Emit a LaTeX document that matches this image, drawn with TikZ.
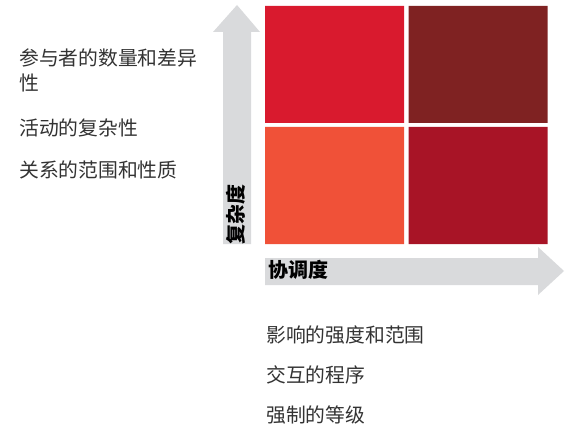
\documentclass[tikz,border=0pt]{standalone}
\usepackage{fontspec}
\newfontfamily\cjk{Noto Sans CJK SC}
\usetikzlibrary{shapes.misc}
\definecolor{qa}{HTML}{D91A2E}
\definecolor{qb}{HTML}{7F2222}
\definecolor{qc}{HTML}{F05138}
\definecolor{qd}{HTML}{A81426}
\definecolor{axisgray}{HTML}{D9DADC}
\begin{document}
\begin{tikzpicture}[x=1pt,y=-1pt,
  quad/.style={chamfered rectangle, chamfered rectangle xsep=5pt, chamfered rectangle ysep=5pt, minimum width=139pt, minimum height=117pt, inner sep=0pt, draw=none},
  txt/.style={anchor=west, inner sep=0pt, font=\cjk\fontsize{19.8}{25}\selectfont, align=left, text=black!80},
  axlabel/.style={inner sep=0pt, font=\cjk\bfseries\fontsize{20}{22}\selectfont, text=black}]
\useasboundingbox (0,0) rectangle (566,428);
% axes arrows
\fill[axisgray] (223,244) -- (223,32) -- (213,32) -- (237,5) -- (260,32) -- (251,32) -- (251,244) -- cycle;
\fill[axisgray] (265,258) -- (538,258) -- (538,247) -- (564,271) -- (538,295) -- (538,285) -- (265,285) -- cycle;
% quadrants
\node[quad, fill=qa] (tl) at (334.5,64.5) {};
\node[quad, fill=qb] (tr) at (478,64.5) {};
\node[quad, fill=qc] (bl) at (334.5,185.5) {};
\node[quad, fill=qd] (br) at (478,185.5) {};
% axis labels
\node[axlabel, rotate=90] (ylab) at (236,214) {复杂度};
\node[axlabel, anchor=west] (xlab) at (268,270) {协调度};
% texts
\node[txt, anchor=north west] (l1) at (19,49) {参与者的数量和差异\\性};
\node[txt] (l2) at (19,128) {活动的复杂性};
\node[txt] (l3) at (19,170) {关系的范围和性质};
\node[txt] (b1) at (266,335) {影响的强度和范围};
\node[txt] (b2) at (266,375) {交互的程序};
\node[txt] (b3) at (266,415) {强制的等级};
\end{tikzpicture}
\end{document}
